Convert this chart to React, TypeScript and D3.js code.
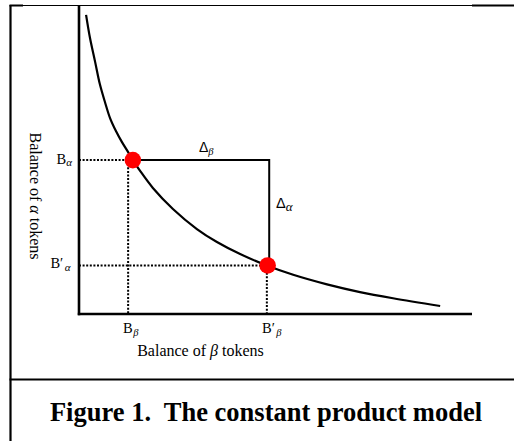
import React from "react";
import * as d3 from "d3";

// Curve of constant product (data units)
const curveX = [1.8, 2.8, 4.1, 5.3, 6.6, 7.9, 9.4, 10.9, 12.5, 13.7, 15.5, 18.8, 23.9, 30.0, 35.1, 41.0, 47.8, 54.5, 63.1, 71.5, 79.9, 91.9];
const curveY = [96.8, 89.3, 81.6, 74.4, 68.6, 63.4, 59.2, 55.7, 52.4, 49.8, 46.4, 40.8, 34.0, 27.5, 23.3, 19.4, 15.7, 12.7, 9.6, 7.1, 5.1, 2.6];

// The two states (B_beta, B_alpha) and (B'_beta, B'_alpha)
const stateX = [13.7, 48.0];
const stateY = [49.8, 15.7];
// dotted guide positions on x
const guideX = [12.5, 47.8];
// corner of the delta rectangle
const cornerX = 48.4;

const xTickLabels = ["B", "B′"];
const yTickLabels = ["B", "B′"];
const xTitle = "Balance of ";
const yTitle = "Balance of ";
const caption = "Figure 1.\u00a0 The constant product model";

const W = 514;
const H = 441;

export default function App() {
  const x = d3.scaleLinear().domain([0, 100]).range([79, 472]);
  const y = d3.scaleLinear().domain([0, 100]).range([314, 5]);
  const pts: [number, number][] = curveX.map((v, i) => [v, curveY[i]]);
  const line = d3
    .line<[number, number]>()
    .x((d) => x(d[0]))
    .y((d) => y(d[1]))
    .curve(d3.curveCatmullRom.alpha(0.5));

  const serif = "'Liberation Serif', 'DejaVu Serif', serif";
  const sans = "'Liberation Sans', Arial, sans-serif";
  const dash = "2,1.6";

  return (
    <svg
      width={W}
      height={H}
      style={{ position: "absolute", left: 0, top: 0, background: "#fff" }}
    >
      <rect x={0} y={0} width={W} height={H} fill="#fff" />
      {/* frame */}
      <line x1={10.5} y1={5} x2={10.5} y2={H} stroke="#000" strokeWidth={2.2} />
      <line x1={9.5} y1={5.5} x2={23} y2={5.5} stroke="#000" strokeWidth={2} />
      <line x1={23} y1={5.5} x2={472} y2={5.5} stroke="#000" strokeWidth={1} />
      <line x1={472} y1={5.5} x2={W} y2={5.5} stroke="#000" strokeWidth={2} />
      <line x1={9.5} y1={379.5} x2={W} y2={379.5} stroke="#000" strokeWidth={2.2} />

      {/* dotted guides */}
      <line x1={x(0)} y1={y(stateY[0])} x2={x(stateX[0])} y2={y(stateY[0])} stroke="#000" strokeWidth={2} strokeDasharray={dash} />
      <line x1={x(0)} y1={y(stateY[1])} x2={x(stateX[1])} y2={y(stateY[1])} stroke="#000" strokeWidth={2} strokeDasharray={dash} />
      <line x1={x(guideX[0])} y1={y(stateY[0])} x2={x(guideX[0])} y2={y(0)} stroke="#000" strokeWidth={2} strokeDasharray={dash} />
      <line x1={x(guideX[1])} y1={y(stateY[1])} x2={x(guideX[1])} y2={y(0)} stroke="#000" strokeWidth={2} strokeDasharray={dash} />

      {/* delta rectangle */}
      <path
        d={`M${x(stateX[0])},${y(stateY[0])}H${x(cornerX)}V${y(stateY[1])}`}
        fill="none"
        stroke="#000"
        strokeWidth={2}
      />

      {/* curve */}
      <path d={line(pts) || ""} fill="none" stroke="#000" strokeWidth={2.2} />

      {/* axes */}
      <line x1={x(0)} y1={y(100)} x2={x(0)} y2={y(0) + 1.2} stroke="#000" strokeWidth={2.6} />
      <line x1={x(0) - 1.2} y1={y(0)} x2={x(100)} y2={y(0)} stroke="#000" strokeWidth={2.6} />

      {/* state points */}
      {stateX.map((v, i) => (
        <circle key={i} cx={x(v)} cy={y(stateY[i])} r={8.3} fill="#ff0000" />
      ))}

      {/* y tick labels */}
      <text x={72} y={163.5} textAnchor="end" fontFamily={serif} fontSize={14.5} fill="#000">
        {yTickLabels[0]}
        <tspan fontStyle="italic" fontSize={11} dy={2}>α</tspan>
      </text>
      <text x={70.5} y={267.5} textAnchor="end" fontFamily={serif} fontSize={14.5} fill="#000">
        {yTickLabels[1]}
        <tspan fontStyle="italic" fontSize={11} dx={1.5} dy={3}>α</tspan>
      </text>

      {/* x tick labels */}
      <text x={123} y={333} textAnchor="start" fontFamily={serif} fontSize={14.5} fill="#000">
        {xTickLabels[0]}
        <tspan fontStyle="italic" fontSize={10.5} dx={0.5} dy={3}>β</tspan>
      </text>
      <text x={262} y={333} textAnchor="start" fontFamily={serif} fontSize={14.5} fill="#000">
        {xTickLabels[1]}
        <tspan fontStyle="italic" fontSize={10.5} dx={1.5} dy={3}>β</tspan>
      </text>

      {/* delta labels */}
      <text x={199} y={152} fontFamily={sans} fontSize={14} fill="#000">
        Δ
        <tspan fontStyle="italic" fontFamily={serif} fontSize={10.5} dy={3}>β</tspan>
      </text>
      <text x={276} y={208} fontFamily={sans} fontSize={14.5} fill="#000">
        Δ
        <tspan fontStyle="italic" fontFamily={serif} fontSize={13} dy={3}>α</tspan>
      </text>

      {/* axis titles */}
      <text x={200.5} y={356} textAnchor="middle" fontFamily={serif} fontSize={16} fill="#000">
        {xTitle}
        <tspan fontStyle="italic">β</tspan> tokens
      </text>
      <text
        transform={`translate(30,196) rotate(90)`}
        textAnchor="middle"
        fontFamily={serif}
        fontSize={16}
        fill="#000"
      >
        {yTitle}
        <tspan fontStyle="italic">α</tspan> tokens
      </text>

      {/* caption */}
      <text x={266} y={421} textAnchor="middle" fontFamily={serif} fontWeight="bold" fontSize={26.5} fill="#000">
        {caption}
      </text>
    </svg>
  );
}
